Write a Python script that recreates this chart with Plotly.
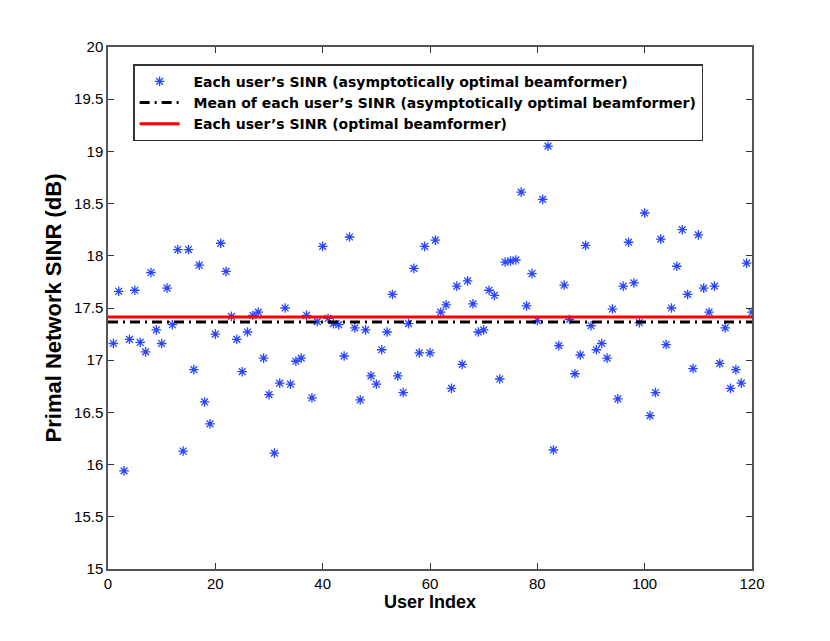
import plotly.graph_objects as go

# per-user SINR (dB), users 1..120
user_index = list(range(1, 121))
sinr_asym = [
    17.16, 17.66, 15.94, 17.20, 17.67, 17.17, 17.08, 17.84, 17.29, 17.16,
    17.69, 17.34, 18.06, 16.13, 18.06, 16.91, 17.91, 16.60, 16.39, 17.25,
    18.12, 17.85, 17.42, 17.20, 16.89, 17.27, 17.43, 17.46, 17.02, 16.67,
    16.11, 16.78, 17.50, 16.77, 16.99, 17.02, 17.43, 16.64, 17.37, 18.09,
    17.40, 17.35, 17.34, 17.04, 18.18, 17.31, 16.62, 17.29, 16.85, 16.77,
    17.10, 17.27, 17.63, 16.85, 16.69, 17.35, 17.88, 17.07, 18.09, 17.07,
    18.15, 17.46, 17.53, 16.73, 17.71, 16.96, 17.76, 17.54, 17.27, 17.29,
    17.67, 17.62, 16.82, 17.94, 17.95, 17.96, 18.61, 17.52, 17.83, 17.38,
    18.54, 19.05, 16.14, 17.14, 17.72, 17.39, 16.87, 17.05, 18.10, 17.33,
    17.10, 17.16, 17.02, 17.49, 16.63, 17.71, 18.13, 17.74, 17.36, 18.41,
    16.47, 16.69, 18.16, 17.15, 17.50, 17.90, 18.25, 17.63, 16.92, 18.20,
    17.69, 17.46, 17.71, 16.97, 17.31, 16.73, 16.91, 16.78, 17.93, 17.46,
]
mean_asym = 17.365
sinr_opt = 17.413

line_x = [0, 120]
font_name = "Liberation Sans, Arial, sans-serif"
pad = "\u00a0\u00a0"

fig = go.Figure()

fig.add_trace(go.Scatter(
    x=user_index, y=sinr_asym, mode="markers",
    name=pad + "<b>Each user\u2019s SINR (asymptotically optimal beamformer)</b>",
    marker=dict(symbol="asterisk-open", size=8, color="rgb(40,70,255)",
                line=dict(width=1.3, color="rgb(40,70,255)")),
))
fig.add_trace(go.Scatter(
    x=line_x, y=[mean_asym] * 2, mode="lines",
    name=pad + "<b>Mean of each user\u2019s SINR (asymptotically optimal beamformer)</b>",
    line=dict(color="black", width=3, dash="10px,5px,2px,5px"),
))
fig.add_trace(go.Scatter(
    x=line_x, y=[sinr_opt] * 2, mode="lines",
    name=pad + "<b>Each user\u2019s SINR (optimal beamformer)</b>",
    line=dict(color="red", width=3),
))

axis_common = dict(
    showgrid=False, zeroline=False,
    showline=True, linecolor="#555555", linewidth=1.5, mirror="ticks",
    ticks="inside", ticklen=6, tickcolor="#333333",
    tickfont=dict(family=font_name, size=15, color="black"),
)

fig.update_xaxes(
    range=[0, 120], tickvals=[0, 20, 40, 60, 80, 100, 120],
    title=dict(text="<b>User Index</b>", font=dict(family=font_name, size=18, color="black"),
               standoff=2),
    **axis_common,
)
fig.update_yaxes(
    range=[15, 20], dtick=0.5, tickformat="~g",
    title=dict(text="<b>Primal Network SINR (dB)</b>",
               font=dict(family=font_name, size=22, color="black"), standoff=6),
    **axis_common,
)

fig.update_layout(
    width=830, height=641,
    margin=dict(l=100, r=86, t=39, b=80),
    plot_bgcolor="white", paper_bgcolor="white",
    font=dict(family=font_name, color="black"),
    legend=dict(
        x=0.039, y=0.967, xanchor="left", yanchor="top",
        bgcolor="white", bordercolor="#333333", borderwidth=1.5,
        font=dict(family="DejaVu Sans", size=14, color="black"),
        traceorder="normal", itemwidth=40,
    ),
    showlegend=True,
)

fig.write_html("out.html")
